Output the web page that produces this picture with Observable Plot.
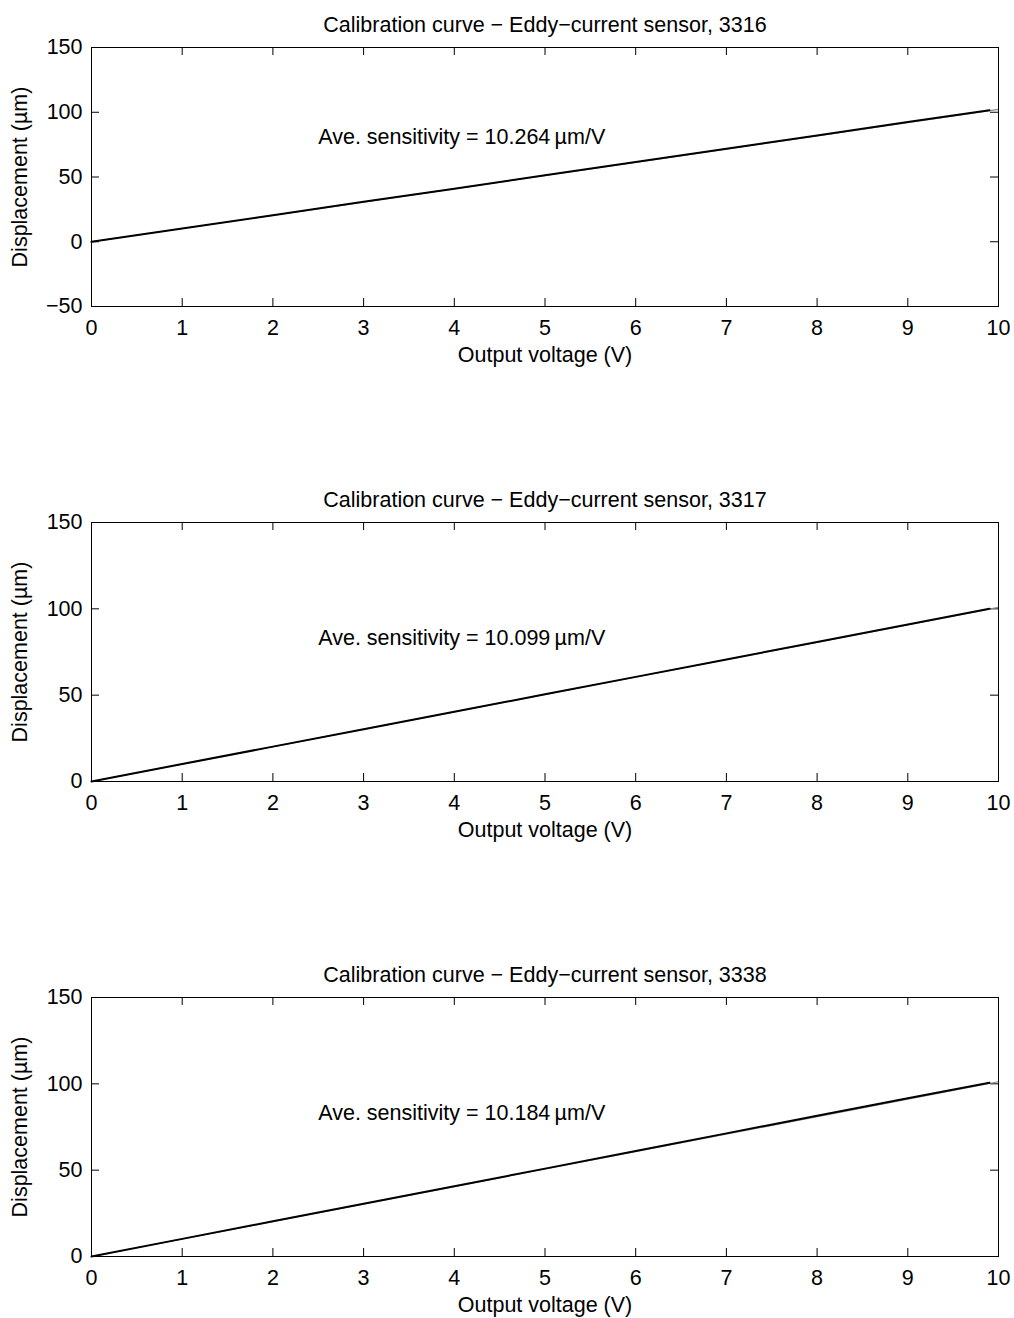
<!DOCTYPE html>
<html>
<head>
<meta charset="utf-8">
<script src="https://cdn.jsdelivr.net/npm/d3@7"></script>
<script src="https://cdn.jsdelivr.net/npm/@observablehq/plot@0.6"></script>
<style>
  html, body { margin: 0; padding: 0; background: #fff; }
  #chart svg { display: block; }
</style>
</head>
<body>
<div id="chart"></div>
<script>
// ---- data ----
const sensors = ["3316", "3317", "3338"];
const sensitivities = ["10.264", "10.099", "10.184"];
const voltage = [0, 1, 2, 3, 4, 5, 6, 7, 8, 9, 9.9];
const disp3316 = [0, 10.2, 20.5, 30.8, 41.0, 51.3, 61.6, 71.8, 82.1, 92.4, 101.6];
const disp3317 = [0, 10.1, 20.2, 30.3, 40.4, 50.5, 60.6, 70.7, 80.8, 90.9, 100.0];
const disp3338 = [0, 10.2, 20.4, 30.6, 40.7, 50.9, 61.1, 71.3, 81.5, 91.7, 100.6];
const fitVoltage = [0, 10];
const fit3316 = [0, 102.2];
const fit3317 = [0, 100.8];
const fit3338 = [0, 101.2];
const xTicks = [0, 1, 2, 3, 4, 5, 6, 7, 8, 9, 10];
const yTicksFirst = [-50, 0, 50, 100, 150];
const yTicksOther = [0, 50, 100, 150];
const yDomainFirst = [-50, 150];
const yDomainOther = [0, 150];
const annotX = 2.5;
const annotY = [81, 83, 83];

const series = [disp3316, disp3317, disp3338];
const fits = [fit3316, fit3317, fit3338];

const W = 1014, mL = 91, mR = 16, mT = 47, plotH = 259;
const plotW = W - mL - mR;
const FONT = "'Liberation Sans', Arial, Helvetica, sans-serif";
const FS = 21.5;
const heights = [475, 475, 368];

const chart = document.getElementById("chart");

series.forEach((ys, i) => {
  const data = voltage.map((v, j) => ({x: v, y: ys[j]}));
  const fitData = fitVoltage.map((v, j) => ({x: v, y: fits[i][j]}));
  const yTicks = i === 0 ? yTicksFirst : yTicksOther;
  const yDomain = i === 0 ? yDomainFirst : yDomainOther;
  const h = heights[i];
  const svg = Plot.plot({
    width: W,
    height: h,
    marginLeft: mL,
    marginRight: mR,
    marginTop: mT,
    marginBottom: h - mT - plotH,
    style: {fontFamily: FONT, fontSize: FS + "px", color: "#000", background: "#fff", overflow: "visible"},
    x: {domain: [0, 10], ticks: xTicks},
    y: {domain: yDomain, ticks: yTicks},
    marks: [
      Plot.axisX(xTicks, {tickSize: 0, tickPadding: 13, label: null, fontSize: FS}),
      Plot.axisY(yTicks, {tickSize: 0, tickPadding: 9, label: null, fontSize: FS}),
      Plot.tickX(xTicks, {x: d => d, insetTop: plotH - 8, stroke: "#000"}),
      Plot.tickX(xTicks, {x: d => d, insetBottom: plotH - 8, stroke: "#000"}),
      Plot.tickY(yTicks, {y: d => d, insetLeft: plotW - 8, stroke: "#000"}),
      Plot.tickY(yTicks, {y: d => d, insetRight: plotW - 8, stroke: "#000"}),
      Plot.line(fitData, {x: "x", y: "y", stroke: "#888", strokeWidth: 1.2}),
      Plot.line(data, {x: "x", y: "y", stroke: "#000", strokeWidth: 2}),
      Plot.text([`Ave. sensitivity = ${sensitivities[i]}\u2009µm/V`], {
        x: annotX, y: annotY[i], textAnchor: "start", fontSize: FS, fill: "#000"
      }),
      Plot.text([`Calibration curve \u2212 Eddy\u2212current sensor, ${sensors[i]}`], {
        frameAnchor: "top", dy: -31, fontSize: FS, fill: "#000"
      }),
      Plot.text(["Output voltage (V)"], {
        frameAnchor: "bottom", dy: 55, fontSize: FS, fill: "#000"
      }),
      Plot.text(["Displacement (µm)"], {
        frameAnchor: "left", textAnchor: "middle", dx: -71, rotate: -90, fontSize: FS, fill: "#000"
      }),
      Plot.frame({stroke: "#000", strokeWidth: 1})
    ]
  });
  chart.appendChild(svg);
});
</script>
</body>
</html>
